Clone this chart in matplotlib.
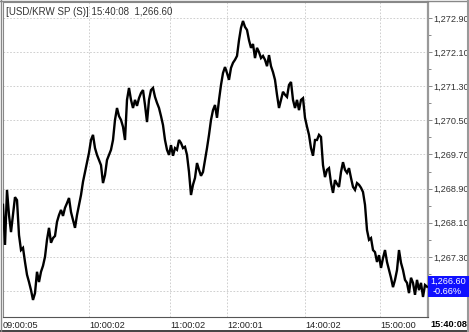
import matplotlib
matplotlib.use("Agg")
import matplotlib.pyplot as plt
from matplotlib.patches import Rectangle
from matplotlib.lines import Line2D
from matplotlib.ticker import FixedLocator

plt.rcParams["font.family"] = ["Liberation Sans", "DejaVu Sans"]

# ---- data ----
symbol = "USD/KRW SP (S)"
last_time = "15:40:08"
last_price = 1266.60
change_pct = -0.66

prices = [
    1268.52, 1267.58, 1268.87, 1268.28, 1267.88, 1268.28, 1268.70, 1268.63, 1267.81, 1267.46,
    1267.51, 1267.18, 1266.88, 1266.71, 1266.52, 1266.29, 1266.45, 1266.95, 1266.71, 1266.95,
    1267.09, 1267.30, 1267.70, 1267.98, 1267.63, 1267.74, 1267.79, 1268.12, 1268.28, 1268.40,
    1268.26, 1268.45, 1268.56, 1268.68, 1268.35, 1268.16, 1267.98, 1268.28, 1268.52, 1268.75,
    1269.06, 1269.29, 1269.52, 1269.74, 1270.04, 1270.16, 1269.85, 1269.69, 1269.57, 1269.45,
    1269.03, 1269.22, 1269.57, 1269.69, 1269.81, 1270.04, 1270.51, 1270.79, 1270.60, 1270.51,
    1270.35, 1270.04, 1270.98, 1271.26, 1270.98, 1270.79, 1270.98, 1270.84, 1271.02, 1271.14,
    1271.21, 1270.86, 1270.46, 1270.98, 1271.21, 1271.26, 1271.05, 1270.91, 1270.79, 1270.60,
    1270.39, 1270.04, 1269.81, 1269.69, 1269.92, 1269.67, 1269.85, 1269.81, 1270.04, 1269.97,
    1269.85, 1269.88, 1269.69, 1269.29, 1268.75, 1268.99, 1269.15, 1269.50, 1269.34, 1269.20,
    1269.29, 1269.57, 1269.85, 1270.16, 1270.51, 1270.74, 1270.86, 1270.56, 1270.98, 1271.33,
    1271.61, 1271.75, 1271.61, 1271.45, 1271.73, 1271.85, 1271.92, 1272.01, 1272.38, 1272.67,
    1272.83, 1272.69, 1272.62, 1272.38, 1272.20, 1272.29, 1271.96, 1272.20, 1272.10, 1271.96,
    1272.01, 1271.92, 1271.77, 1272.03, 1271.77, 1271.63, 1271.45, 1271.10, 1270.79, 1270.98,
    1271.17, 1271.10, 1271.05, 1271.33, 1271.40, 1270.98, 1270.79, 1270.98, 1270.74, 1270.98,
    1271.02, 1270.56, 1270.35, 1270.16, 1269.85, 1269.67, 1270.04, 1270.04, 1270.16, 1270.11,
    1269.45, 1269.17, 1269.34, 1269.38, 1269.03, 1268.80, 1269.10, 1269.01, 1268.94, 1269.29,
    1269.52, 1269.34, 1269.27, 1269.38, 1269.15, 1268.94, 1268.87, 1269.03, 1268.99, 1268.92,
    1268.82, 1268.52, 1267.93, 1267.70, 1267.74, 1267.46, 1267.41, 1267.18, 1267.34, 1267.04,
    1267.27, 1267.46, 1267.18, 1266.99, 1266.81, 1266.59, 1266.76, 1266.99, 1267.46, 1267.16,
    1266.99, 1266.76, 1266.69, 1266.45, 1266.81, 1266.69, 1266.41, 1266.76, 1266.52, 1266.69,
    1266.36, 1266.64, 1266.60,
]

time_labels = ["09:00:05", "10:00:02", "11:00:02", "12:00:01", "14:00:02", "15:00:00"]
time_index = [0, 43, 83.5, 112, 151, 188.5]

y_ticks = [1266.50, 1267.30, 1268.10, 1268.90, 1269.70, 1270.50, 1271.30, 1272.10, 1272.90]

# ---- figure ----
W, H = 469, 332
fig = plt.figure(figsize=(W / 100, H / 100), dpi=100)
fig.patch.set_facecolor("white")

ax = fig.add_axes([3 / W, 15 / H, 425 / W, 315 / H])
ax.set_facecolor("white")

x = list(range(len(prices)))
ax.plot(x, prices, color="black", lw=1.7, solid_joinstyle="miter", zorder=3)

ax.set_xlim(0, len(prices) - 0.5)
ax.set_ylim(1265.89, 1273.275)

# y axis on the right (the lowest label sits under the last-price box)
ax.yaxis.tick_right()
ax.set_yticks(y_ticks)
ax.set_yticklabels(["" if v < last_price else f"{v:,.2f}" for v in y_ticks])
minor = [v + 0.4 for v in y_ticks]
ax.yaxis.set_minor_locator(FixedLocator(minor))
ax.tick_params(axis="y", which="major", length=3, width=0.6, color="#777777",
               pad=1, labelsize=6.6, labelcolor="#333333")
ax.tick_params(axis="y", which="minor", length=2, width=0.6, color="#777777")

# x axis labels (left aligned at their gridlines)
ax.set_xticks(time_index)
ax.set_xticklabels(time_labels, ha="left")
ax.tick_params(axis="x", length=0, pad=3, labelsize=6.6, labelcolor="#222222")

# grid
gkw = dict(color="#c8c8c8", lw=0.6, linestyle=(0, (2, 2)))
for v in y_ticks:
    ax.axhline(v, zorder=1, **gkw)
for t in time_index[1:]:
    ax.axvline(t, zorder=1, **gkw)

for s in ["left", "top"]:
    ax.spines[s].set_color("#888888")
    ax.spines[s].set_linewidth(0.8)
ax.spines["right"].set_color("#999999")
ax.spines["right"].set_linewidth(1.6)
ax.spines["bottom"].set_color("#555555")
ax.spines["bottom"].set_linewidth(0.8)

# title
ax.text(0.006, 0.985, f"[{symbol}] {last_time}  {last_price:,.2f}",
        transform=ax.transAxes, ha="left", va="top", fontsize=7, color="#333333")

# last-price box on the right axis
fig.patches.append(Rectangle((428 / W, 1 - 297 / H), 41 / W, 21 / H,
                             transform=fig.transFigure, facecolor="#1010ff",
                             edgecolor="none", zorder=5))
fig.text(430 / W, 1 - 281.5 / H, f"{last_price:,.2f}", color="white", fontsize=6.6,
         ha="left", va="center", zorder=6)
fig.text(433 / W, 1 - 291.5 / H, f"{change_pct:.2f}%", color="white", fontsize=6.6,
         ha="left", va="center", zorder=6)

# last time label under the price axis
fig.text(430 / W, 1 - 324.5 / H, last_time, color="black", fontsize=6.6,
         fontweight="bold", ha="left", va="center", zorder=6)

# outer frame
fig.lines.append(Line2D([0, 1], [1 / H, 1 / H], transform=fig.transFigure,
                        color="#222222", lw=1.2))
fig.lines.append(Line2D([1 / W, 1 / W], [0, 1], transform=fig.transFigure,
                        color="#888888", lw=1.0))
fig.lines.append(Line2D([0, 1], [1 - 0.5 / H, 1 - 0.5 / H], transform=fig.transFigure,
                        color="#888888", lw=1.0))
fig.lines.append(Line2D([1 - 1.5 / W, 1 - 1.5 / W], [0, 1], transform=fig.transFigure,
                        color="#999999", lw=1.5))

fig.savefig("out.png", dpi=100, facecolor="white")
